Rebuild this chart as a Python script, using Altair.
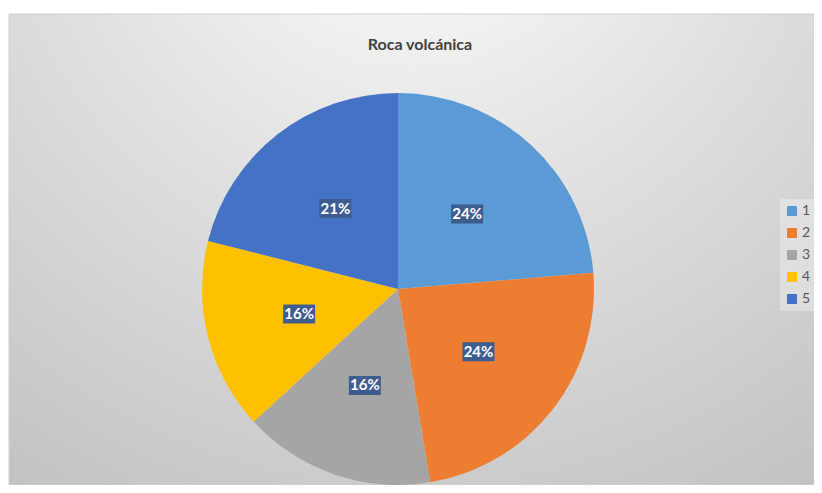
import altair as alt
import pandas as pd

categories = ["1", "2", "3", "4", "5"]
values = [9, 9, 6, 6, 8]
colors = ["#5b9bd5", "#ed7d31", "#a5a5a5", "#ffc000", "#4472c4"]
title_text = "Roca volcánica"

W, H = 805, 471
CX, CY = 389, 275
R = 196
RL = 102
BW, BH = 32, 19

df = pd.DataFrame({"cat": categories, "value": values})

gradient = {
    "gradient": "radial",
    "x1": 0.5, "y1": 0.02, "x2": 0.5, "y2": 0.02,
    "r1": 0, "r2": 1.0,
    "stops": [
        {"offset": 0, "color": "#ffffff"},
        {"offset": 0.45, "color": "#e0e0e0"},
        {"offset": 1, "color": "#bdbdbd"},
    ],
}

bg = alt.Chart(pd.DataFrame({"a": [0]})).mark_rect(
    color=gradient, stroke="#d0d0d0", strokeWidth=1
).encode(
    x=alt.value(0), x2=alt.value(W), y=alt.value(0), y2=alt.value(H)
)

title = alt.Chart(pd.DataFrame({"t": [title_text]})).mark_text(
    font="Lato", fontSize=16, fontWeight="bold", color="#404040"
).encode(text="t:N", x=alt.value(420 - 9), y=alt.value(45 - 14))

base = alt.Chart(df)

pie = base.mark_arc(radius=R).encode(
    theta=alt.Theta("value:Q", stack=True),
    order=alt.Order("cat:N", sort="ascending"),
    color=alt.Color(
        "cat:N",
        scale=alt.Scale(domain=categories, range=colors),
        legend=alt.Legend(
            title=None,
            orient="none",
            legendX=771,
            legendY=185,
            symbolType="square",
            symbolSize=100,
            symbolStrokeWidth=0,
            labelFont="Lato",
            labelFontSize=14,
            labelColor="#595959",
            labelOffset=3,
            rowPadding=8,
            padding=5,
            fillColor="rgba(255,255,255,0.3)",
        ),
    ),
    x=alt.value(CX),
    y=alt.value(CY),
)

lab = base.transform_joinaggregate(
    total="sum(value)"
).transform_window(
    cum="sum(value)", sort=[alt.SortField("cat")], frame=[None, 0]
).transform_calculate(
    mid="(datum.cum - datum.value / 2) / datum.total * 2 * PI",
    label="format(datum.value / datum.total, '.0%')",
).transform_calculate(
    lx=f"{CX} + {RL} * sin(datum.mid)",
    ly=f"{CY} - {RL} * cos(datum.mid)",
).transform_calculate(
    bx1=f"datum.lx - {BW / 2}",
    bx2=f"datum.lx + {BW / 2}",
    by1=f"datum.ly - {BH / 2}",
    by2=f"datum.ly + {BH / 2}",
)

boxes = lab.mark_rect(color="#3e5d8e").encode(
    x=alt.X("bx1:Q", scale=None, axis=None),
    x2="bx2:Q",
    y=alt.Y("by1:Q", scale=None, axis=None),
    y2="by2:Q",
)

texts = lab.mark_text(
    font="Lato", fontSize=15, fontWeight="bold", color="white", baseline="middle"
).encode(
    x=alt.X("lx:Q", scale=None, axis=None),
    y=alt.Y("ly:Q", scale=None, axis=None),
    text="label:N",
)

chart = alt.layer(bg, title, pie, boxes, texts).properties(
    width=W,
    height=H,
    autosize=alt.AutoSizeParams(type="none"),
    padding={"left": 1, "top": 6, "right": 0, "bottom": 0},
    background="white",
).configure_view(strokeWidth=0)

chart.save("out.html", embed_options={"renderer": "svg", "actions": False})
